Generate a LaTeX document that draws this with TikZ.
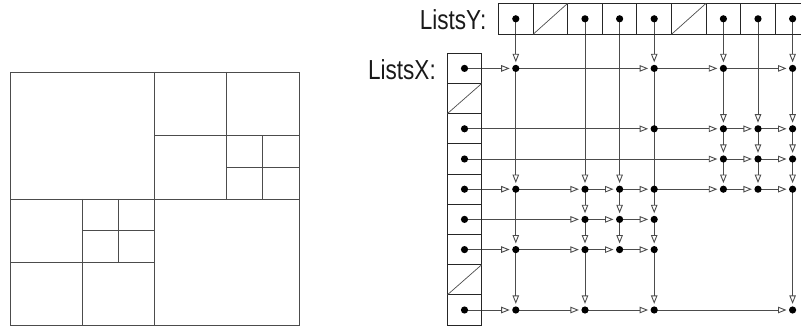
\documentclass[tikz,border=0pt]{standalone}
\usepackage{fontspec}
\setmainfont{Liberation Sans}[FakeStretch=0.82]
\usetikzlibrary{arrows.meta,backgrounds}
\begin{document}
\begin{tikzpicture}[x=1pt,y=-1pt,
  lin/.style={draw=black!70, line width=0.9pt},
  cellbox/.style={draw=black!85, line width=0.9pt, inner sep=0pt, outer sep=0pt},
  ycell/.style={cellbox, minimum width=34.6pt, minimum height=31pt},
  xcell/.style={cellbox, minimum width=34.4pt, minimum height=30.2pt},
  dot/.style={circle, fill=black, inner sep=0pt, minimum size=7.2pt, outer sep=2.5pt},
  arr/.style={draw=black!70, line width=0.9pt, -{Triangle[open, length=8.5pt, width=6.5pt]}},
  lbl/.style={font=\fontsize{27.5}{27.5}\selectfont, inner sep=0pt, text=black!90}]
\useasboundingbox (0,0) rectangle (801,326);

% left quadtree
\draw[lin] (10,72) rectangle (299,325);
\draw[lin] (154,72) -- (154,325);
\draw[lin] (10,199) -- (299,199);
\draw[lin] (226.7,72) -- (226.7,199);
\draw[lin] (154,135.3) -- (299,135.3);
\draw[lin] (262.7,135.3) -- (262.7,199);
\draw[lin] (226.7,167.3) -- (299,167.3);
\draw[lin] (82,199) -- (82,325);
\draw[lin] (10,262.3) -- (154,262.3);
\draw[lin] (118.3,199) -- (118.3,262.3);
\draw[lin] (82,230.3) -- (154,230.3);

% labels
\node[lbl, anchor=base east] (ty) at (486.5,29.3) {ListsY:};
\node[lbl, anchor=base east] (tx) at (436,79.3) {ListsX:};

% ListsY cells
\foreach \i in {1,...,9}
  \node[ycell] (ly\i) at ({498.5+34.6*(\i-0.5)},18.8) {};
% ListsX cells
\foreach \i in {1,...,9}
  \node[xcell] (lx\i) at (464.5,{53.3+30.2*(\i-0.5)}) {};
% null cells
\foreach \i in {2,6} \draw[lin, line width=0.7pt] (ly\i.south west) -- (ly\i.north east);
\foreach \i in {2,8} \draw[lin, line width=0.7pt] (lx\i.south west) -- (lx\i.north east);

% head dots
\foreach \c in {1,3,4,5,7,8,9} \node[dot] (n0-\c) at (ly\c.center) {};
\foreach \r in {1,3,4,5,6,7,9} \node[dot] (n\r-0) at (lx\r.center) {};

% grid nodes
\foreach \r/\cs in {1/{1,5,7,9},3/{5,7,8,9},4/{7,8,9},5/{1,3,4,5,7,8,9},6/{3,4,5},7/{1,3,4,5},9/{1,3,5,9}}{
  \foreach \c in \cs { \node[dot] (n\r-\c) at (ly\c.center |- lx\r.center) {}; }
}

\begin{scope}[on background layer]
% row links
\foreach \r/\cs in {1/{1,5,7,9},3/{5,7,8,9},4/{7,8,9},5/{1,3,4,5,7,8,9},6/{3,4,5},7/{1,3,4,5},9/{1,3,5,9}}{
  \foreach \c [remember=\c as \p (initially 0)] in \cs { \draw[arr] (n\r-\p.center) -- (n\r-\c); }
}
% column links
\foreach \c/\rs in {1/{1,5,7,9},3/{5,6,7,9},4/{5,6,7},5/{1,6,7,9},7/{1,3,4,5},8/{3,4,5},9/{1,3,4,5,9}}{
  \foreach \r [remember=\r as \p (initially 0)] in \rs { \draw[arr] (n\p-\c.center) -- (n\r-\c); }
}
\end{scope}
\end{tikzpicture}
\end{document}
